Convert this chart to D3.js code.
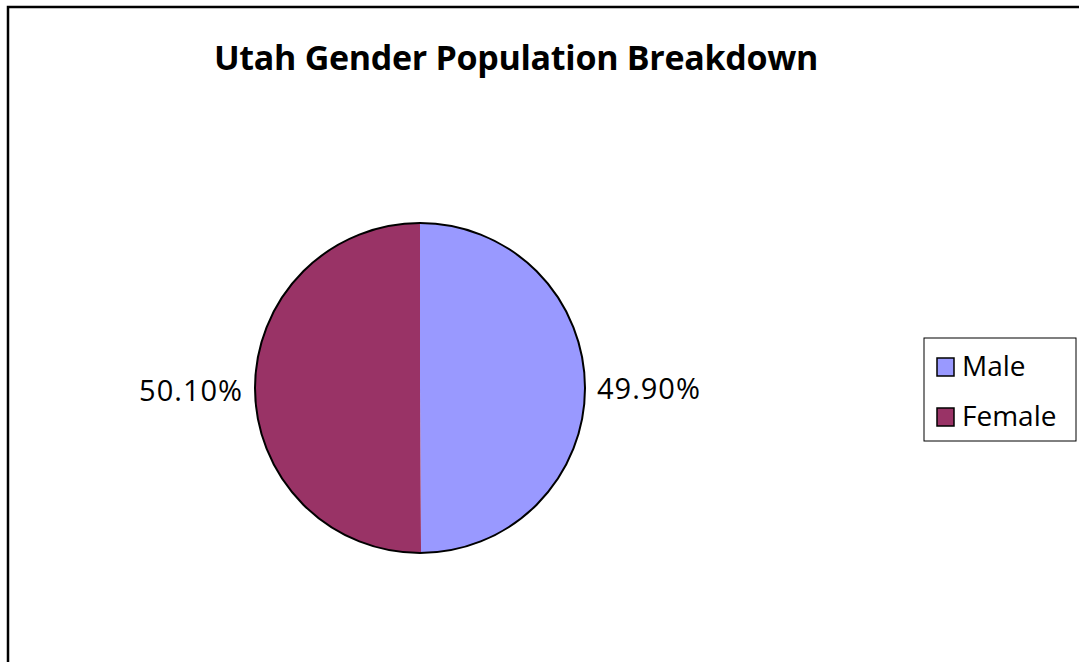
<!DOCTYPE html>
<html>
<head>
<meta charset="utf-8" />
<title>Utah Gender Population Breakdown</title>
<script src="https://cdn.jsdelivr.net/npm/d3@7"></script>
<style>
body {
	margin: 0;
	padding: 0;
	background-color: #fff;
}
text {
	font-family: "Open Sans", sans-serif;
	fill: #000;
}
</style>
</head>
<body>
<svg></svg>
<script>

// data
var categories = ["Male", "Female"];
var shares = [49.9, 50.1];
var pctLabels = ["49.90%", "50.10%"];
var colors = ["#9999FF", "#993366"];

var w = 1079, h = 662;

var svg = d3.select("svg")
	.attr("width", w)
	.attr("height", h);

// chart frame (runs off right/bottom)
svg.append("rect")
	.attr("x", 8)
	.attr("y", 7)
	.attr("width", w + 20)
	.attr("height", h + 20)
	.style("fill", "none")
	.style("stroke", "#000")
	.style("stroke-width", 2.5);

// title
svg.append("text")
	.attr("x", 516)
	.attr("y", 70)
	.attr("text-anchor", "middle")
	.style("font-size", "34px")
	.style("font-weight", "bold")
	.style("letter-spacing", "-0.3px")
	.text("Utah Gender Population Breakdown");

/*** pie ***/
var cx = 420, cy = 388, r = 165;

var pie = d3.pie().sort(null).value(function(d) { return d; });
var arc = d3.arc().innerRadius(0).outerRadius(r);
var arcs = pie(shares);

var g = svg.append("g")
	.attr("transform", "translate(" + cx + "," + cy + ")");

g.selectAll("path.slice")
	.data(arcs)
	.enter()
	.append("path")
	.attr("class", "slice")
	.attr("d", arc)
	.style("fill", function(d, i) { return colors[i]; })
	.style("stroke", "none");

// outline of the pie
g.append("circle")
	.attr("r", r)
	.style("fill", "none")
	.style("stroke", "#000")
	.style("stroke-width", 2);

// percentage labels outside, left or right
var labelR = r + 12;
g.selectAll("text.pct")
	.data(arcs)
	.enter()
	.append("text")
	.attr("class", "pct")
	.attr("x", function(d) {
		var a = (d.startAngle + d.endAngle) / 2;
		return Math.sin(a) * labelR;
	})
	.attr("y", function(d) {
		var a = (d.startAngle + d.endAngle) / 2;
		return -Math.cos(a) * labelR + 12;
	})
	.attr("text-anchor", function(d) {
		var a = (d.startAngle + d.endAngle) / 2;
		return Math.sin(a) > 0 ? "start" : "end";
	})
	.style("font-size", "29px")
	.style("letter-spacing", "1px")
	.text(function(d, i) { return pctLabels[i]; });

/*** legend ***/
var legend = svg.append("g")
	.attr("transform", "translate(924,338)");

legend.append("rect")
	.attr("width", 152)
	.attr("height", 103)
	.style("fill", "#fff")
	.style("stroke", "#000")
	.style("stroke-width", 1);

var items = legend.selectAll("g.item")
	.data(categories)
	.enter()
	.append("g")
	.attr("class", "item")
	.attr("transform", function(d, i) { return "translate(13," + (20 + i * 50) + ")"; });

items.append("rect")
	.attr("width", 17)
	.attr("height", 18)
	.style("fill", function(d, i) { return colors[i]; })
	.style("stroke", "#000")
	.style("stroke-width", 1.5);

items.append("text")
	.attr("x", 25)
	.attr("y", 18)
	.style("font-size", "28px")
	.text(function(d) { return d; });

</script>
</body>
</html>
